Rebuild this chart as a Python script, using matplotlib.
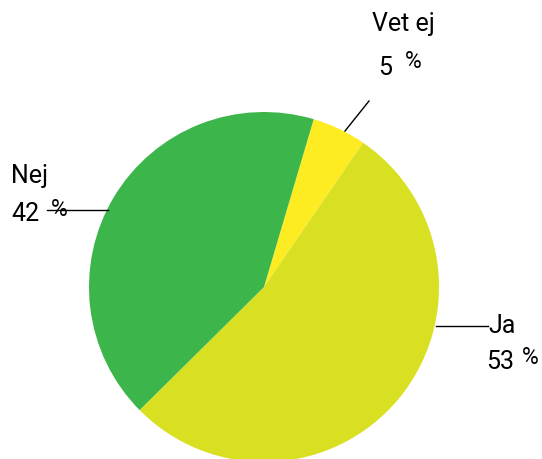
import matplotlib.pyplot as plt

labels = ["Vet ej", "Ja", "Nej"]
values = [5, 53, 42]
colors = ["#fcec21", "#d8e021", "#3cb54a"]

plt.rcParams['font.family'] = ['Roboto', 'DejaVu Sans']

W, H = 542, 459
fig = plt.figure(figsize=(W / 100, H / 100), dpi=100)
ax = fig.add_axes([0, 0, 1, 1])

cx, cy, r = 264, H - 287, 175
ax.pie(values, colors=colors, startangle=73.5, counterclock=False,
       center=(cx, cy), radius=r, frame=True,
       wedgeprops=dict(linewidth=0))
ax.set_xlim(0, W)
ax.set_ylim(0, H)
ax.set_aspect('equal')
ax.axis('off')

def py(y):
    return H - y

# leader lines
ax.plot([47, 108], [py(210), py(210)], color='black', lw=1)
ax.plot([345, 369], [py(131), py(101)], color='black', lw=1)
ax.plot([436, 488], [py(326), py(326)], color='black', lw=1)

fs = 18
fsp = 16.5
# Nej
ax.text(11, py(176), labels[2], fontsize=fs, va='center', ha='left')
ax.text(11, py(214), str(values[2]), fontsize=fs, va='center', ha='left')
ax.text(51, py(209), "%", fontsize=fsp, va='center', ha='left')
# Vet ej
ax.text(403, py(24), labels[0], fontsize=fs, va='center', ha='center')
ax.text(385, py(68), str(values[0]), fontsize=fs, va='center', ha='center')
ax.text(413, py(62), "%", fontsize=fsp, va='center', ha='center')
# Ja
ax.text(488, py(326), labels[1], fontsize=fs, va='center', ha='left')
ax.text(486, py(362), str(values[1]), fontsize=fs, va='center', ha='left')
ax.text(522, py(358), "%", fontsize=fsp, va='center', ha='left')

fig.savefig("out.png", dpi=100)
